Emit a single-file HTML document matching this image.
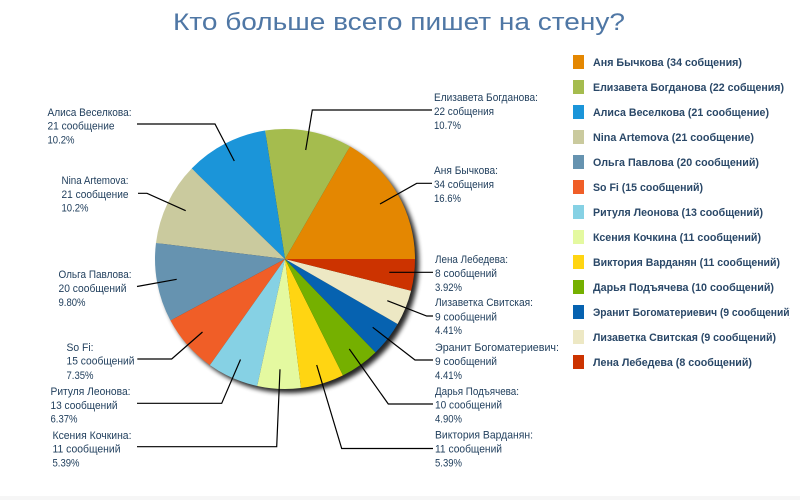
<!DOCTYPE html>
<html><head><meta charset="utf-8"><style>
html,body{margin:0;padding:0;background:#fff;}
svg{display:block;}
.l{font-family:"Liberation Sans","DejaVu Sans",sans-serif;font-size:11px;fill:#22405e;}
.g{font-family:"Liberation Sans","DejaVu Sans",sans-serif;font-size:11px;font-weight:bold;fill:#2a4868;}
</style></head><body>
<svg width="800" height="500" viewBox="0 0 800 500" xmlns="http://www.w3.org/2000/svg">
<defs>
<filter id="sh" x="-20%" y="-20%" width="140%" height="140%">
<feGaussianBlur stdDeviation="2.5"/>
</filter>
<clipPath id="cl"><rect x="0" y="0" width="790" height="500"/></clipPath>
</defs>
<rect x="0" y="0" width="800" height="500" fill="#fff"/>
<rect x="0" y="496" width="800" height="4" fill="#f6f6f6"/>
<text x="173" y="30" font-family="Liberation Sans, DejaVu Sans, sans-serif" font-size="24" fill="#4f77a5" textLength="452" lengthAdjust="spacingAndGlyphs">Кто больше всего пишет на стену?</text>

<circle cx="289" cy="263" r="130" fill="#000" opacity="0.85" filter="url(#sh)"/>
<g stroke="none">
<path d="M285 259 L415 259 A130 130 0 0 0 350 146.42 Z" fill="#E48701"/>
<path d="M285 259 L350 146.42 A130 130 0 0 0 265.06 130.54 Z" fill="#A5BC4E"/>
<path d="M285 259 L265.06 130.54 A130 130 0 0 0 191.67 168.5 Z" fill="#1B95D9"/>
<path d="M285 259 L191.67 168.5 A130 130 0 0 0 155.99 243.02 Z" fill="#CACA9E"/>
<path d="M285 259 L155.99 243.02 A130 130 0 0 0 170.47 320.5 Z" fill="#6693B0"/>
<path d="M285 259 L170.47 320.5 A130 130 0 0 0 209.89 365.1 Z" fill="#F05E27"/>
<path d="M285 259 L209.89 365.1 A130 130 0 0 0 257.19 385.99 Z" fill="#86D1E4"/>
<path d="M285 259 L257.19 385.99 A130 130 0 0 0 300.98 388.01 Z" fill="#E4F9A0"/>
<path d="M285 259 L300.98 388.01 A130 130 0 0 0 342.95 375.37 Z" fill="#FFD512"/>
<path d="M285 259 L342.95 375.37 A130 130 0 0 0 375.5 352.33 Z" fill="#75B000"/>
<path d="M285 259 L375.5 352.33 A130 130 0 0 0 397.58 324 Z" fill="#0662B0"/>
<path d="M285 259 L397.58 324 A130 130 0 0 0 411.07 290.71 Z" fill="#EDE8C4"/>
<path d="M285 259 L411.07 290.71 A130 130 0 0 0 415 259 Z" fill="#CC3300"/>
</g>

<g fill="none" stroke="#000" stroke-width="1.2">
<polyline points="305.7,150 312.3,110 432,110"/>
<polyline points="380,204 416.7,183.3 432,183.3"/>
<polyline points="389.3,272.3 433,272.3"/>
<polyline points="387.3,300.7 426.7,316 433,316"/>
<polyline points="372.7,327.3 415,360 433,360"/>
<polyline points="349.3,349 388.3,404 433,404"/>
<polyline points="316.7,365 341.7,448.5 433,448.5"/>
<polyline points="234.3,161 215,124 137,124"/>
<polyline points="185.7,210.7 147,193.3 138,193.3"/>
<polyline points="176.7,279.3 137,286.5"/>
<polyline points="202.5,332 171.7,359 137.3,359"/>
<polyline points="240.5,359.5 221.7,403.3 137,403.3"/>
<polyline points="280,369.3 276.7,446.7 137,446.7"/>
</g>

<g class="l">
<text x="434" y="101" textLength="104" lengthAdjust="spacingAndGlyphs">Елизавета Богданова:</text>
<text x="434" y="115" textLength="60" lengthAdjust="spacingAndGlyphs">22 собщения</text>
<text x="434" y="129" textLength="27" lengthAdjust="spacingAndGlyphs">10.7%</text>

<text x="434" y="174" textLength="64" lengthAdjust="spacingAndGlyphs">Аня Бычкова:</text>
<text x="434" y="188" textLength="60" lengthAdjust="spacingAndGlyphs">34 собщения</text>
<text x="434" y="202" textLength="27" lengthAdjust="spacingAndGlyphs">16.6%</text>

<text x="435" y="263" textLength="73" lengthAdjust="spacingAndGlyphs">Лена Лебедева:</text>
<text x="435" y="277" textLength="62" lengthAdjust="spacingAndGlyphs">8 сообщений</text>
<text x="435" y="291" textLength="27" lengthAdjust="spacingAndGlyphs">3.92%</text>

<text x="435" y="306" textLength="98" lengthAdjust="spacingAndGlyphs">Лизаветка Свитская:</text>
<text x="435" y="320.5" textLength="62" lengthAdjust="spacingAndGlyphs">9 сообщений</text>
<text x="435" y="334" textLength="27" lengthAdjust="spacingAndGlyphs">4.41%</text>

<text x="435" y="351" textLength="124" lengthAdjust="spacingAndGlyphs">Эранит Богоматериевич:</text>
<text x="435" y="365" textLength="62" lengthAdjust="spacingAndGlyphs">9 сообщений</text>
<text x="435" y="379" textLength="27" lengthAdjust="spacingAndGlyphs">4.41%</text>

<text x="435" y="395" textLength="84" lengthAdjust="spacingAndGlyphs">Дарья Подъячева:</text>
<text x="435" y="408.5" textLength="67" lengthAdjust="spacingAndGlyphs">10 сообщений</text>
<text x="435" y="422.5" textLength="27" lengthAdjust="spacingAndGlyphs">4.90%</text>

<text x="435" y="438.5" textLength="98" lengthAdjust="spacingAndGlyphs">Виктория Варданян:</text>
<text x="435" y="452.5" textLength="67" lengthAdjust="spacingAndGlyphs">11 сообщений</text>
<text x="435" y="466.5" textLength="27" lengthAdjust="spacingAndGlyphs">5.39%</text>

<text x="47.5" y="116" textLength="84" lengthAdjust="spacingAndGlyphs">Алиса Веселкова:</text>
<text x="47.5" y="129.5" textLength="67" lengthAdjust="spacingAndGlyphs">21 сообщение</text>
<text x="47.5" y="143.5" textLength="27" lengthAdjust="spacingAndGlyphs">10.2%</text>

<text x="61.5" y="184" textLength="67" lengthAdjust="spacingAndGlyphs">Nina Artemova:</text>
<text x="61.5" y="198" textLength="67" lengthAdjust="spacingAndGlyphs">21 сообщение</text>
<text x="61.5" y="211.5" textLength="27" lengthAdjust="spacingAndGlyphs">10.2%</text>

<text x="58.5" y="278" textLength="73" lengthAdjust="spacingAndGlyphs">Ольга Павлова:</text>
<text x="58.5" y="292" textLength="68" lengthAdjust="spacingAndGlyphs">20 сообщений</text>
<text x="58.5" y="306" textLength="27" lengthAdjust="spacingAndGlyphs">9.80%</text>

<text x="66.5" y="351" textLength="27" lengthAdjust="spacingAndGlyphs">So Fi:</text>
<text x="66.5" y="364.5" textLength="68" lengthAdjust="spacingAndGlyphs">15 сообщений</text>
<text x="66.5" y="379" textLength="27" lengthAdjust="spacingAndGlyphs">7.35%</text>

<text x="50.5" y="395" textLength="80" lengthAdjust="spacingAndGlyphs">Ритуля Леонова:</text>
<text x="50.5" y="409" textLength="67" lengthAdjust="spacingAndGlyphs">13 сообщений</text>
<text x="50.5" y="422.5" textLength="27" lengthAdjust="spacingAndGlyphs">6.37%</text>

<text x="52.5" y="439" textLength="79" lengthAdjust="spacingAndGlyphs">Ксения Кочкина:</text>
<text x="52.5" y="452.5" textLength="68" lengthAdjust="spacingAndGlyphs">11 сообщений</text>
<text x="52.5" y="466.5" textLength="27" lengthAdjust="spacingAndGlyphs">5.39%</text>
</g>

<g>
<rect x="573" y="55" width="11" height="14" fill="#E48701"/>
<rect x="573" y="80" width="11" height="14" fill="#A5BC4E"/>
<rect x="573" y="105" width="11" height="14" fill="#1B95D9"/>
<rect x="573" y="130" width="11" height="14" fill="#CACA9E"/>
<rect x="573" y="155" width="11" height="14" fill="#6693B0"/>
<rect x="573" y="180" width="11" height="14" fill="#F05E27"/>
<rect x="573" y="205" width="11" height="14" fill="#86D1E4"/>
<rect x="573" y="230" width="11" height="14" fill="#E4F9A0"/>
<rect x="573" y="255" width="11" height="14" fill="#FFD512"/>
<rect x="573" y="280" width="11" height="14" fill="#75B000"/>
<rect x="573" y="305" width="11" height="14" fill="#0662B0"/>
<rect x="573" y="330" width="11" height="14" fill="#EDE8C4"/>
<rect x="573" y="355" width="11" height="14" fill="#CC3300"/>
</g>
<g class="g" clip-path="url(#cl)">
<text x="593" y="66" textLength="149" lengthAdjust="spacingAndGlyphs">Аня Бычкова (34 собщения)</text>
<text x="593" y="91" textLength="191" lengthAdjust="spacingAndGlyphs">Елизавета Богданова (22 собщения)</text>
<text x="593" y="116" textLength="176" lengthAdjust="spacingAndGlyphs">Алиса Веселкова (21 сообщение)</text>
<text x="593" y="141" textLength="161" lengthAdjust="spacingAndGlyphs">Nina Artemova (21 сообщение)</text>
<text x="593" y="166" textLength="166" lengthAdjust="spacingAndGlyphs">Ольга Павлова (20 сообщений)</text>
<text x="593" y="191" textLength="110" lengthAdjust="spacingAndGlyphs">So Fi (15 сообщений)</text>
<text x="593" y="216" textLength="170" lengthAdjust="spacingAndGlyphs">Ритуля Леонова (13 сообщений)</text>
<text x="593" y="241" textLength="168" lengthAdjust="spacingAndGlyphs">Ксения Кочкина (11 сообщений)</text>
<text x="593" y="266" textLength="187" lengthAdjust="spacingAndGlyphs">Виктория Варданян (11 сообщений)</text>
<text x="593" y="291" textLength="181" lengthAdjust="spacingAndGlyphs">Дарья Подъячева (10 сообщений)</text>
<text x="593" y="316" textLength="200" lengthAdjust="spacingAndGlyphs">Эранит Богоматериевич (9 сообщений)</text>
<text x="593" y="341" textLength="183" lengthAdjust="spacingAndGlyphs">Лизаветка Свитская (9 сообщений)</text>
<text x="593" y="366" textLength="159" lengthAdjust="spacingAndGlyphs">Лена Лебедева (8 сообщений)</text>
</g>
</svg>
</body></html>
